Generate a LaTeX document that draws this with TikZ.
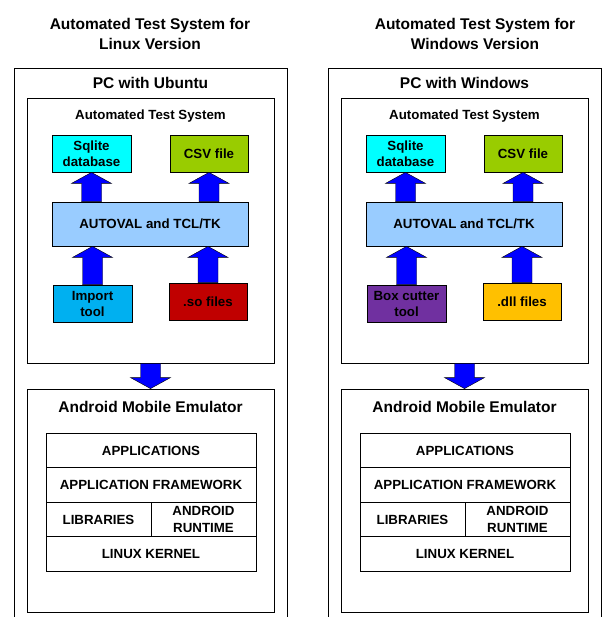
\documentclass[tikz,border=0pt]{standalone}
\usepackage{fontspec}
\setmainfont{Liberation Sans}
\usetikzlibrary{calc}

\definecolor{sqlcol}{HTML}{00FFFF}
\definecolor{csvcol}{HTML}{99CC00}
\definecolor{autocol}{HTML}{99CCFF}
\definecolor{importcol}{HTML}{00B0F0}
\definecolor{socol}{HTML}{C00000}
\definecolor{cuttercol}{HTML}{7030A0}
\definecolor{dllcol}{HTML}{FFC000}

\newcommand{\boxfont}{\fontsize{13.3}{16}\selectfont\bfseries}
\newcommand{\headfont}{\fontsize{15.5}{20}\selectfont\bfseries}

\tikzset{
    frame/.style={draw=black, line width=0.8pt},
    panel/.style={draw=black, line width=0.8pt, minimum width=247pt, inner sep=0pt},
    filebox/.style={draw=black, line width=0.8pt, minimum width=79pt, minimum height=37pt,
        inner sep=1pt, align=center, font=\boxfont},
    layer/.style={draw=black, line width=0.6pt, minimum height=34.5pt, inner sep=0pt,
        align=center, font=\boxfont},
    heading/.style={font=\headfont, align=center, inner sep=0pt},
    fat/.style={fill=blue, draw=black, line width=0.4pt},
}

% block arrow from tail #1 to tip #2
\newcommand{\fatarrow}[2]{%
    \coordinate (h) at ($(#2)!11pt!(#1)$);
    \draw[fat] ($(#1)!10pt!90:(#2)$) -- ($(h)!10pt!-90:(#1)$) -- ($(h)!20pt!-90:(#1)$)
        -- (#2) -- ($(h)!20pt!90:(#1)$) -- ($(h)!10pt!90:(#1)$) -- ($(#1)!10pt!-90:(#2)$) -- cycle;
}

\begin{document}
\begin{tikzpicture}[x=1pt, y=-1pt]

    \useasboundingbox (0,0) rectangle (607,617);

    \foreach \side/\dx/\tx/\os/\pc/\tool/\toolcol/\lib/\libcol in {%
        L/0/150/Linux/Ubuntu/{Import\\tool}/importcol/{.so files}/socol,%
        W/314/161/Windows/Windows/{Box cutter\\tool}/cuttercol/{.dll files}/dllcol} {
    \begin{scope}[xshift=\dx pt]

        % version title
        \node[heading] (title\side) at (\tx,33.5) {Automated Test System for\\\os{} Version};

        % pc frame, open at the bottom
        \draw[frame] (14,617) |- (287,68) -- (287,617);
        \node[heading] (pc\side) at (150.5,83) {PC with \pc};

        % automated test system
        \node[panel, minimum height=265pt] (ats\side) at (150.5,230.5) {};
        \node[font=\boxfont, inner sep=0pt] (atstitle\side) at (150.5,116) {Automated Test System};

        \node[filebox, fill=sqlcol] (sql\side) at (91.5,153.5) {Sqlite\\database};
        \node[filebox, fill=csvcol, minimum width=78pt] (csv\side) at (209,153.5) {CSV file};
        \node[filebox, fill=autocol, minimum width=196pt, minimum height=44pt] (auto\side) at (150,224) {AUTOVAL and TCL/TK};
        \node[filebox, fill=\toolcol] (tool\side) at (92.5,303.5) {\tool};
        \node[filebox, fill=\libcol, minimum width=78pt] (lib\side) at (208,301.5) {\lib};

        % arrows
        \fatarrow{sql\side.south |- auto\side.north}{sql\side.south}
        \fatarrow{csv\side.south |- auto\side.north}{csv\side.south}
        \fatarrow{tool\side.north}{tool\side.north |- auto\side.south}
        \fatarrow{lib\side.north}{lib\side.north |- auto\side.south}

        % android emulator
        \node[panel, minimum height=223pt] (and\side) at (150.5,500.5) {};
        \node[heading] (andtitle\side) at (150.5,407) {Android Mobile Emulator};
        \fatarrow{ats\side.south}{and\side.north}

        % android stack
        \node[layer, minimum width=210pt] (apps\side) at (151,450.5) {APPLICATIONS};
        \node[layer, minimum width=210pt] (fw\side) at (151,485) {APPLICATION FRAMEWORK};
        \node[layer, minimum width=105pt] (libs\side) at (98.5,519.5) {LIBRARIES};
        \node[layer, minimum width=105pt, font=\fontsize{13.3}{17}\selectfont\bfseries] (rt\side) at (203.5,519.5) {ANDROID\\RUNTIME};
        \node[layer, minimum width=210pt] (kernel\side) at (151,554) {LINUX KERNEL};

    \end{scope}
    }

\end{tikzpicture}
\end{document}
